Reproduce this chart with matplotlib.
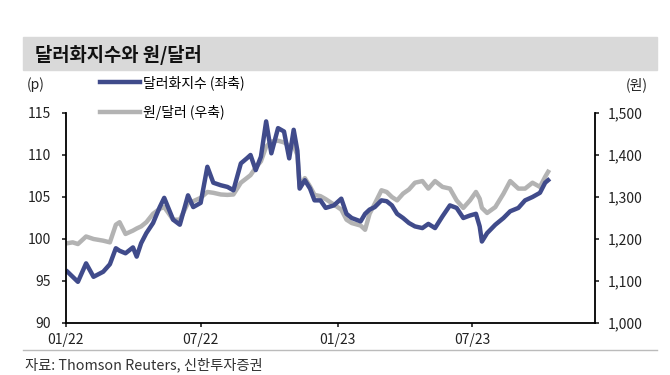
import matplotlib
matplotlib.use("Agg")
import matplotlib.pyplot as plt
import matplotlib.dates as mdates
import numpy as np
import pandas as pd
from matplotlib.patches import Rectangle
from matplotlib.lines import Line2D

plt.rcParams['font.family'] = ['Noto Sans CJK KR', 'DejaVu Sans']

# data (approximate)
dates = [
    "2022-01-03", "2022-01-10", "2022-01-17", "2022-01-28", "2022-02-07", "2022-02-20",
    "2022-03-01", "2022-03-09", "2022-03-14", "2022-03-22", "2022-04-01", "2022-04-06",
    "2022-04-12", "2022-04-19", "2022-04-28", "2022-05-07", "2022-05-13", "2022-05-25",
    "2022-06-03", "2022-06-14", "2022-06-21", "2022-07-01", "2022-07-10", "2022-07-18",
    "2022-07-28", "2022-08-06", "2022-08-14", "2022-08-24", "2022-09-01", "2022-09-06",
    "2022-09-13", "2022-09-20", "2022-09-27", "2022-10-04", "2022-10-13", "2022-10-21",
    "2022-10-28", "2022-11-03", "2022-11-08", "2022-11-11", "2022-11-18", "2022-11-25",
    "2022-12-01", "2022-12-09", "2022-12-16", "2022-12-27", "2023-01-06", "2023-01-13",
    "2023-01-20", "2023-02-01", "2023-02-07", "2023-02-13", "2023-02-20", "2023-03-01",
    "2023-03-08", "2023-03-15", "2023-03-22", "2023-03-30", "2023-04-07", "2023-04-15",
    "2023-04-25", "2023-05-03", "2023-05-12", "2023-05-22", "2023-06-01", "2023-06-10",
    "2023-06-19", "2023-06-28", "2023-07-06", "2023-07-11", "2023-07-14", "2023-07-21",
    "2023-08-01", "2023-08-12", "2023-08-21", "2023-09-01", "2023-09-10", "2023-09-20",
    "2023-09-30", "2023-10-07", "2023-10-11",
]
dxy = [
    96.1, 95.5, 94.9, 97.1, 95.5, 96.1,
    97.0, 98.9, 98.6, 98.3, 99.0, 97.9,
    99.5, 100.7, 101.9, 103.8, 104.9, 102.3,
    101.7, 105.2, 103.8, 104.3, 108.6, 106.7,
    106.4, 106.2, 105.8, 109.0, 109.6, 110.0,
    108.2, 109.8, 114.0, 110.2, 113.2, 112.8,
    109.6, 113.0, 110.5, 106.0, 107.0, 106.0,
    104.6, 104.6, 103.7, 104.0, 104.8, 103.0,
    102.5, 102.1, 103.0, 103.5, 103.8, 104.6,
    104.5, 104.0, 103.0, 102.5, 101.9, 101.5,
    101.3, 101.8, 101.3, 102.7, 104.0, 103.7,
    102.5, 102.8, 103.0, 101.5, 99.7, 100.7,
    101.7, 102.5, 103.3, 103.7, 104.6, 105.0,
    105.5, 106.7, 107.0,
]
krw = [
    1190, 1192, 1188, 1206, 1200, 1196,
    1192, 1234, 1240, 1212, 1220, 1225,
    1230, 1240, 1260, 1272, 1276, 1246,
    1246, 1286, 1290, 1298, 1312, 1310,
    1306, 1305, 1306, 1334, 1345, 1352,
    1370, 1385, 1420, 1432, 1434, 1430,
    1422, 1422, 1400, 1325, 1345, 1325,
    1305, 1302, 1295, 1282, 1270, 1246,
    1238, 1232, 1222, 1260, 1284, 1316,
    1312, 1300, 1292, 1308, 1318, 1334,
    1338, 1320, 1338, 1324, 1320, 1292,
    1274, 1292, 1312, 1296, 1274, 1262,
    1276, 1308, 1338, 1320, 1320, 1334,
    1324, 1348, 1360,
]
x_ticks = ["2022-01-01", "2022-07-01", "2023-01-01", "2023-07-01"]

dates = pd.to_datetime(dates)
blue = "#404B8B"
grey = "#B3B3B3"

W, H = 670, 375
fig = plt.figure(figsize=(6.7, 3.75), dpi=100)
ax = fig.add_axes([66 / W, 1 - 323 / H, (595 - 66) / W, (323 - 113) / H])
ax2 = ax.twinx()

ax2.plot(dates, krw, color=grey, lw=3.2, solid_joinstyle='round', zorder=1)
ax.plot(dates, dxy, color=blue, lw=3.2, solid_joinstyle='round', zorder=2)
ax.set_zorder(ax2.get_zorder() + 1)
ax.patch.set_visible(False)

ax.set_xlim(pd.Timestamp("2022-01-01"), pd.Timestamp("2023-12-13"))
ax.set_ylim(90, 115)
ax2.set_ylim(1000, 1500)
ax.set_yticks(np.arange(90, 116, 5))
ax2.set_yticks(np.arange(1000, 1501, 100))
ax2.set_yticklabels([f"{v:,}" for v in range(1000, 1501, 100)])
ax.set_xticks(pd.to_datetime(x_ticks))
ax.xaxis.set_major_formatter(mdates.DateFormatter("%m/%y"))

for a in (ax, ax2):
    a.spines["top"].set_visible(False)
    a.tick_params(length=3, width=1.2, labelsize=10, colors="#222222", direction="out")
ax.spines["right"].set_visible(False)
ax2.spines["left"].set_visible(False)
ax2.spines["bottom"].set_visible(False)
for s in ("left", "bottom"):
    ax.spines[s].set_linewidth(1.3)
ax2.spines["right"].set_linewidth(1.3)
ax.tick_params(axis="y", pad=8)
ax2.tick_params(axis="y", pad=6)
ax.tick_params(axis="x", pad=4)

# title band
fig.patches.append(Rectangle((23 / W, 1 - 70 / H), (657 - 23) / W, 33 / H,
                             transform=fig.transFigure, color="#D9D9D9", zorder=0))
fig.text(35 / W, 1 - 55 / H, "달러화지수와 원/달러", fontsize=13.5, fontweight="bold",
         va="center", ha="left", color="#111111")

# units
fig.text(27 / W, 1 - 85 / H, "(p)", fontsize=10, va="center", color="#222222")
fig.text(648 / W, 1 - 85 / H, "(원)", fontsize=10, va="center", ha="right", color="#222222")

handles = [Line2D([], [], color=blue, lw=3.2), Line2D([], [], color=grey, lw=3.2)]
fig.legend(handles, ["달러화지수 (좌축)", "원/달러 (우축)"], loc="upper left",
           bbox_to_anchor=(100 / W, 1 - 75 / H), frameon=False, fontsize=10,
           handlelength=2.9, handletextpad=0.2, labelspacing=1.1, borderaxespad=0,
           borderpad=0)

# footer
fig.add_artist(Line2D([23 / W, 657 / W], [1 - 350 / H] * 2, color="#BBBBBB", lw=1,
                      transform=fig.transFigure))
fig.text(25 / W, 1 - 365 / H, "자료: Thomson Reuters, 신한투자증권", fontsize=10.3,
         va="center", color="#333333")

fig.savefig("out.png", dpi=100)
